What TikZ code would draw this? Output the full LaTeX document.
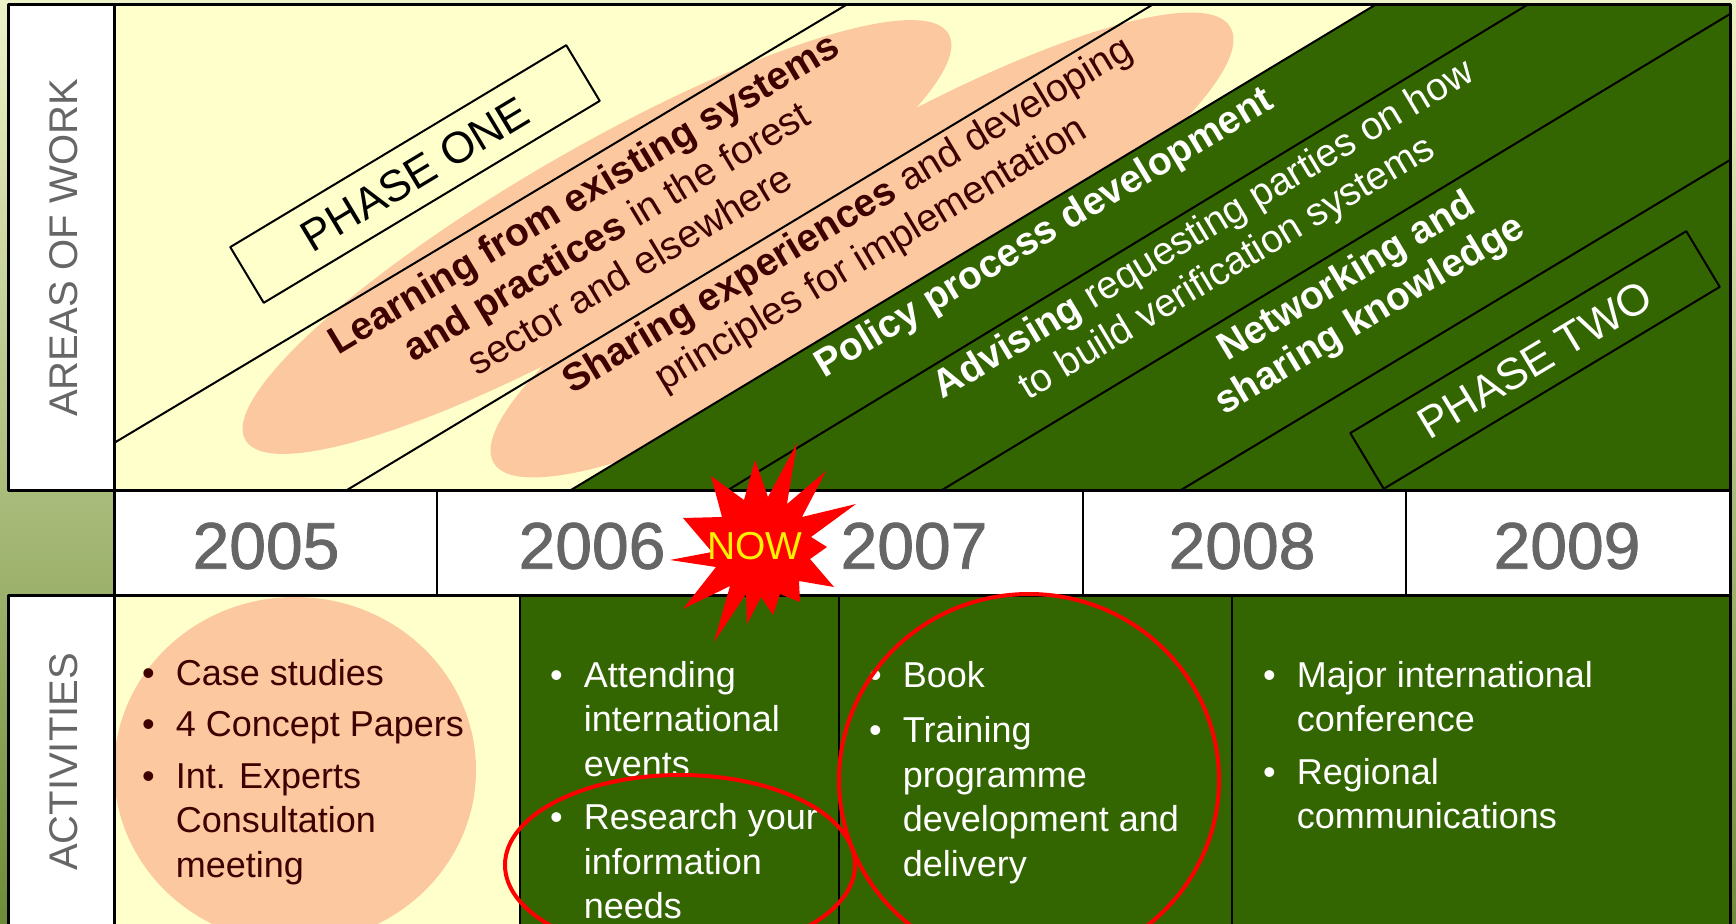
\documentclass[tikz,border=0pt]{standalone}
\usepackage{fontspec}
\setmainfont{Liberation Sans}
\newfontfamily\yearfont[FakeBold=1.2]{Liberation Sans}
\definecolor{bandgreen}{HTML}{336600}
\definecolor{paleyellow}{HTML}{FFFFCC}
\definecolor{peach}{HTML}{FCC8A0}
\definecolor{darkbrown}{HTML}{3F0000}
\definecolor{labelgrey}{HTML}{666666}
\definecolor{bgtop}{HTML}{EEF2C8}
\definecolor{bgmid}{HTML}{9CB56A}
\definecolor{bgbot}{HTML}{6E8C38}
\tikzset{
	boxline/.style={draw=black, line width=3pt},
	bandline/.style={draw=black, line width=2pt},
	sidelabel/.style={text=labelgrey, rotate=90, inner sep=0pt, font=\fontsize{40}{48}\selectfont},
	yearlabel/.style={text=labelgrey, inner sep=0pt, font=\yearfont\fontsize{66}{70}\selectfont},
	slanttext/.style={rotate=31, align=center, inner sep=0pt, font=\fontsize{39}{45}\selectfont},
	phasebox/.style={draw=black, line width=2pt, rotate=31, minimum width=392pt, minimum height=65pt, inner sep=0pt, font=\fontsize{44}{50}\selectfont},
	activity/.style={anchor=base west, inner sep=0pt, font=\fontsize{36}{44.5}\selectfont},
	ring/.style={draw=red, line width=4pt}
}
\begin{document}
\begin{tikzpicture}[x=1pt, y=-1pt, line join=round, line cap=round]
	\useasboundingbox (0,0) rectangle (1736,923);
	\clip (0,0) rectangle (1736,923);
	\shade[top color=bgtop, middle color=bgmid, bottom color=bgbot] (0,0) rectangle (1736,923);
	
	%Areas of work
	\fill[white] (8,5) rectangle (114,490);
	\fill[paleyellow] (114,5) rectangle (1730,490);
	\fill[peach, rotate around={30:(597,237)}] (597,237) ellipse [x radius=406pt, y radius=88pt];
	\fill[peach, rotate around={30.6:(862,245)}] (862,245) ellipse [x radius=428pt, y radius=94pt];
	\fill[bandgreen] (571,490) -- (1375,5) -- (1730,5) -- (1730,490) -- cycle;
	\draw[bandline] (114,443) -- (846,5) (347,490) -- (1152,5) (571,490) -- (1375,5)
		(728,490) -- (1527,5) (942,490) -- (1730,14) (1181,490) -- (1730,160);
	
	\node[phasebox] (phaseone) at (415,174) {PHASE ONE};
	\node[slanttext, text=darkbrown] (learning) at (606,231) {\textbf{Learning from existing systems}\\\textbf{and practices} in the forest\\sector and elsewhere};
	\node[slanttext, text=darkbrown] (sharing) at (860,236) {\textbf{Sharing experiences} and developing\\principles for implementation};
	\node[slanttext, text=white] (policy) at (1045,234) {\textbf{Policy process development}};
	\node[slanttext, text=white] (advising) at (1216,250) {\textbf{Advising} requesting parties on how\\to build verification systems};
	\node[slanttext, text=white] (networking) at (1359,297) {\textbf{Networking and}\\\textbf{sharing knowledge}};
	\node[phasebox, text=white] (phasetwo) at (1535,360) {PHASE TWO};
	
	\node[sidelabel] (areas) at (64,248) {AREAS OF WORK};
	\draw[boxline] (8,5) rectangle (114,490) (114,5) rectangle (1730,490);
	
	%Years
	\fill[white] (114,490) rectangle (1730,595);
	\draw[boxline] (114,490) rectangle (1730,595);
	\draw[bandline] (437,490) -- (437,595) (760,490) -- (760,595) (1083,490) -- (1083,595) (1406,490) -- (1406,595);
	\node[yearlabel] (y2005) at (266,546) {2005};
	\node[yearlabel] (y2006) at (592,546) {2006};
	\node[yearlabel] (y2007) at (914,546) {2007};
	\node[yearlabel] (y2008) at (1242,546) {2008};
	\node[yearlabel] (y2009) at (1567,546) {2009};
	
	%Activities
	\fill[white] (8,595) rectangle (114,930);
	\fill[paleyellow] (114,595) rectangle (520,930);
	\fill[bandgreen] (520,595) rectangle (1730,930);
	\fill[peach] (295,770) ellipse [x radius=181pt, y radius=173pt];
	\draw[boxline] (8,595) rectangle (114,930) (114,595) rectangle (1730,930);
	\draw[bandline] (520,595) -- (520,930) (839,595) -- (839,930) (1232,595) -- (1232,930);
	\node[sidelabel] (activities) at (64,762) {ACTIVITIES};
	
	\node[activity, text=darkbrown] (acts2005) at (142,685) {\begin{tabular}[t]{@{}l@{\hspace{21pt}}l@{}}
		\textbullet & Case studies\\[7pt]
		\textbullet & 4 Concept Papers\\[7pt]
		\textbullet & Int. Experts\\
		& Consultation\\
		& meeting
	\end{tabular}};
	\node[activity, text=white] (acts2006) at (550,687) {\begin{tabular}[t]{@{}l@{\hspace{21pt}}l@{}}
		\textbullet & Attending\\
		& international\\
		& events\\[9pt]
		\textbullet & Research your\\
		& information\\
		& needs
	\end{tabular}};
	\node[activity, text=white] (acts2007) at (869,687) {\begin{tabular}[t]{@{}l@{\hspace{21pt}}l@{}}
		\textbullet & Book\\[11pt]
		\textbullet & Training\\
		& programme\\
		& development and\\
		& delivery
	\end{tabular}};
	\node[activity, text=white] (acts2008) at (1263,687) {\begin{tabular}[t]{@{}l@{\hspace{21pt}}l@{}}
		\textbullet & Major international\\
		& conference\\[8pt]
		\textbullet & Regional\\
		& communications
	\end{tabular}};
	
	%Now
	\fill[red] (797,443) -- (787,504) -- (826,471) -- (802,517) -- (856,504) -- (811,537)
		-- (827,547) -- (810,559) -- (834,587) -- (799,581) -- (800,602) -- (780,594)
		-- (773,615) -- (761,597) -- (747,624) -- (746,594) -- (714,642) -- (730,586)
		-- (683,609) -- (716,567) -- (670,560) -- (712,552) -- (683,518) -- (722,517)
		-- (711,476) -- (744,500) -- (755,460) -- (768,497) -- cycle;
	\node[inner sep=0pt, text=yellow, font=\fontsize{39}{44}\selectfont] (now) at (755,546) {NOW};
	
	\draw[ring] (680,865) ellipse [x radius=175pt, y radius=90pt];
	\draw[ring] (1029,780) ellipse [x radius=190pt, y radius=186pt];
\end{tikzpicture}
\end{document}
